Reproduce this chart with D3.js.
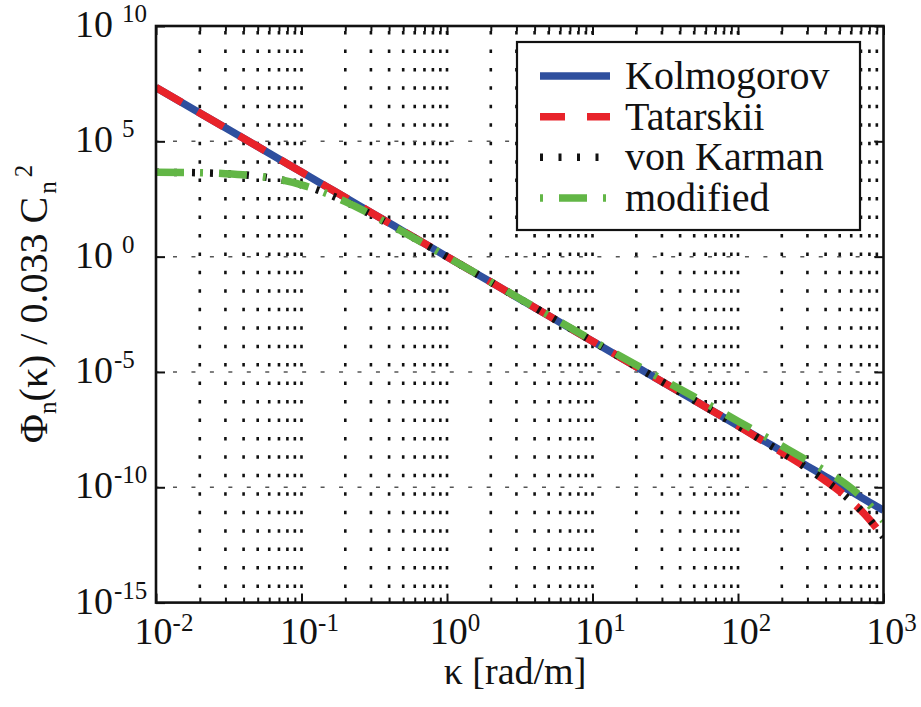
<!DOCTYPE html>
<html>
<head>
<meta charset="utf-8">
<script src="https://cdn.jsdelivr.net/npm/d3@7"></script>
<style>
  body { margin: 0; background: #fff; }
  text { font-family: "Liberation Serif", "Times New Roman", serif; fill: #111; }
</style>
</head>
<body>
<div class="chart-box"></div>
<script>
// wavenumber samples [rad/m] and spectra
let kappa = [0.01, 0.02, 0.03, 0.05, 0.07, 0.1, 0.15, 0.2, 0.3, 0.5, 1, 2, 5, 10, 20, 50, 100, 150, 200, 300, 400, 500, 600, 700, 800, 900, 1000];
let kolmogorov = [2.15e7, 1.70e6, 3.84e5, 5.90e4, 1.72e4, 4.64e3, 1.05e3, 366, 82.7, 12.7, 1, 7.87e-2, 2.74e-3, 2.15e-4, 1.70e-5, 5.90e-7, 4.64e-8, 1.05e-8, 3.66e-9, 8.27e-10, 2.88e-10, 1.27e-10, 6.50e-11, 3.70e-11, 2.26e-11, 1.47e-11, 1.0e-11];
let tatarskii = [2.15e7, 1.70e6, 3.84e5, 5.90e4, 1.72e4, 4.64e3, 1.05e3, 366, 82.7, 12.7, 1, 7.87e-2, 2.74e-3, 2.15e-4, 1.70e-5, 5.90e-7, 4.60e-8, 9.8e-9, 3.26e-9, 6.56e-10, 1.90e-10, 6.67e-11, 2.47e-11, 9.95e-12, 4.03e-12, 1.65e-12, 7.1e-13];
let vonKarman = [4.56e3, 4.32e3, 3.96e3, 3.08e3, 2.23e3, 1.30e3, 535, 243, 68.1, 11.8, 0.982, 7.85e-2, 2.74e-3, 2.15e-4, 1.70e-5, 5.90e-7, 4.60e-8, 9.8e-9, 3.26e-9, 6.56e-10, 1.90e-10, 6.67e-11, 2.47e-11, 9.95e-12, 4.03e-12, 1.65e-12, 7.1e-13];
let modified = [4.56e3, 4.32e3, 3.96e3, 3.08e3, 2.23e3, 1.30e3, 535, 243, 68.1, 11.8, 0.982, 8.05e-2, 2.86e-3, 2.31e-4, 2.0e-5, 8.34e-7, 7.36e-8, 1.74e-8, 6.21e-9, 1.44e-9, 5.0e-10, 2.11e-10, 9.19e-11, 3.87e-11, 1.72e-11, 7.71e-12, 3.55e-12];

let seriesNames = ["Kolmogorov", "Tatarskii", "von Karman", "modified"];
let xTickExps = [-2, -1, 0, 1, 2, 3];
let yTickExps = [10, 5, 0, -5, -10, -15];

let width = 921, height = 707;
let plotLeft = 156, plotRight = 883.5, plotTop = 26, plotBottom = 602.6;

let svg = d3.select(".chart-box")
  .append("svg")
  .attr("width", width)
  .attr("height", height);

let x = d3.scaleLog().domain([1e-2, 1e3]).range([plotLeft, plotRight]);
let y = d3.scaleLog().domain([1e-15, 1e10]).range([plotBottom, plotTop]);

let allX = x.ticks();
let isMajor = v => Math.abs(Math.log10(v) - Math.round(Math.log10(v))) < 1e-9;
let xMajor = allX.filter(isMajor);
let xMinor = allX.filter(v => !isMajor(v));
let yMajor = yTickExps.map(e => Math.pow(10, e));

// grid
let grid = svg.append("g").attr("class", "grid");
grid.selectAll(".vgrid")
  .data(allX.filter(v => v > 1.001e-2 && v < 0.999e3))
  .enter().append("line")
  .attr("x1", d => x(d)).attr("x2", d => x(d))
  .attr("y1", plotTop).attr("y2", plotBottom)
  .attr("stroke", "#111")
  .attr("stroke-width", 2.6)
  .attr("stroke-dasharray", "3.5,14.95")
  .attr("stroke-dashoffset", 13.45);

grid.selectAll(".hgrid")
  .data(yMajor.filter(v => v > 1.001e-15 && v < 0.999e10))
  .enter().append("line")
  .attr("x1", plotLeft).attr("x2", plotRight)
  .attr("y1", d => y(d)).attr("y2", d => y(d))
  .attr("stroke", "#555")
  .attr("stroke-width", 1.5)
  .attr("stroke-dasharray", "4,14.45")
  .attr("stroke-dashoffset", 1.45);

// curves
svg.append("clipPath").attr("id", "plot-clip")
  .append("rect")
  .attr("x", plotLeft).attr("y", plotTop)
  .attr("width", plotRight - plotLeft).attr("height", plotBottom - plotTop);

let line = d3.line()
  .x(d => x(d[0]))
  .y(d => y(d[1]))
  .curve(d3.curveMonotoneX);

let series = [
  { name: seriesNames[0], values: kolmogorov, color: "#2f4f9e", dash: null, legendDash: null, legendOffset: 0 },
  { name: seriesNames[1], values: tatarskii, color: "#e8232a", dash: "30,18", legendDash: "25,22", legendOffset: 0 },
  { name: seriesNames[2], values: vonKarman, color: "#111111", dash: "3,15", legendDash: "3,15.5", legendOffset: 0 },
  { name: seriesNames[3], values: modified, color: "#62b646", dash: "28,16,3,16", legendDash: "28,16,3,16", legendOffset: 44 }
];

let curves = svg.append("g").attr("clip-path", "url(#plot-clip)");
series.forEach(s => {
  curves.append("path")
    .datum(kappa.map((k, i) => [k, s.values[i]]))
    .attr("d", line)
    .attr("fill", "none")
    .attr("stroke", s.color)
    .attr("stroke-width", 7.5)
    .attr("stroke-dasharray", s.dash);
});

// ticks (inward)
let tickGroup = (axis, tx, ty) => svg.append("g")
  .attr("transform", `translate(${tx},${ty})`)
  .call(axis)
  .call(g => g.select(".domain").remove())
  .call(g => g.selectAll("line").attr("stroke", "#111").attr("stroke-width", 2));

tickGroup(d3.axisBottom(x).tickValues(xMajor).tickSize(-9).tickFormat(""), 0, plotBottom);
tickGroup(d3.axisBottom(x).tickValues(xMinor).tickSize(-5).tickFormat(""), 0, plotBottom);
tickGroup(d3.axisTop(x).tickValues(xMajor).tickSize(-9).tickFormat(""), 0, plotTop);
tickGroup(d3.axisTop(x).tickValues(xMinor).tickSize(-5).tickFormat(""), 0, plotTop);
tickGroup(d3.axisLeft(y).tickValues(yMajor).tickSize(-9).tickFormat(""), plotLeft, 0);
tickGroup(d3.axisRight(y).tickValues(yMajor).tickSize(-9).tickFormat(""), plotRight, 0);

// frame
svg.append("rect")
  .attr("x", plotLeft).attr("y", plotTop)
  .attr("width", plotRight - plotLeft).attr("height", plotBottom - plotTop)
  .attr("fill", "none")
  .attr("stroke", "#111")
  .attr("stroke-width", 2.6);

// x tick labels
xTickExps.forEach(e => {
  let t = svg.append("text")
    .attr("x", x(Math.pow(10, e)) + 8)
    .attr("y", 644)
    .attr("text-anchor", "middle")
    .attr("font-size", 38);
  t.append("tspan").text("10");
  t.append("tspan").attr("font-size", 25).attr("dy", -13).text(e < 0 ? "-" + (-e) : String(e));
});

// y tick labels
yTickExps.forEach(e => {
  let t = svg.append("text")
    .attr("x", 75)
    .attr("y", Math.max(y(Math.pow(10, e)) + 11, 35))
    .attr("font-size", 38);
  t.append("tspan").text("10");
  t.append("tspan").attr("font-size", 25).attr("dy", -15)
    .attr("dx", e < 0 ? 1 : 4)
    .text(e < 0 ? "-" + (-e) : "\u2009" + e);
});

// axis titles
svg.append("text")
  .attr("x", 515).attr("y", 684)
  .attr("text-anchor", "middle")
  .attr("font-size", 38)
  .text("\u03ba [rad/m]");

let yt = svg.append("text")
  .attr("transform", "translate(47,304) rotate(-90)")
  .attr("text-anchor", "middle")
  .attr("font-size", 40);
yt.append("tspan").text("\u03a6");
yt.append("tspan").attr("font-size", 25).attr("dy", 9).text("n");
yt.append("tspan").attr("dy", -9).text("(\u03ba) / 0.033 C");
yt.append("tspan").attr("font-size", 25).attr("dy", 9).attr("dx", 3).text("n");
yt.append("tspan").attr("font-size", 25).attr("dy", -24).attr("dx", 4).text("2");

// legend
let legend = svg.append("g").attr("class", "legend");
legend.append("rect")
  .attr("x", 517).attr("y", 42)
  .attr("width", 343).attr("height", 188)
  .attr("fill", "#fff")
  .attr("stroke", "#111")
  .attr("stroke-width", 2.2);

let rowY = d3.scalePoint().domain(seriesNames).range([76, 198]);
series.forEach(s => {
  let ly = rowY(s.name);
  legend.append("line")
    .attr("x1", 540).attr("x2", 610)
    .attr("y1", ly).attr("y2", ly)
    .attr("stroke", s.color)
    .attr("stroke-width", 7.5)
    .attr("stroke-dasharray", s.legendDash)
    .attr("stroke-dashoffset", s.legendOffset);
  legend.append("text")
    .attr("x", 625).attr("y", ly + 13)
    .attr("font-size", 40)
    .text(s.name);
});
</script>
</body>
</html>
